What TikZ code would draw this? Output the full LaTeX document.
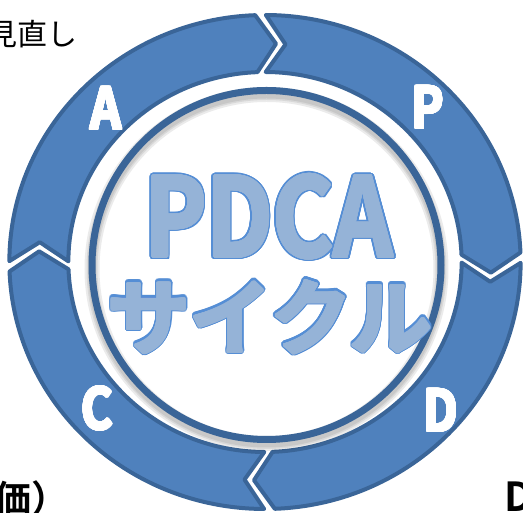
\documentclass[tikz,border=0pt]{standalone}
\usepackage{fontspec}
\usepackage{contour}
\newfontfamily\jpfont{Noto Sans CJK JP}
\newfontfamily\jpbold{Noto Sans CJK JP Bold}
\newfontfamily\jpnarrow[FakeStretch=0.85]{Noto Sans CJK JP Bold}
\definecolor{segfill}{HTML}{4F81BD}
\definecolor{segline}{HTML}{3A6598}
\definecolor{txtfill}{HTML}{95B3D7}
\definecolor{txtline}{HTML}{558ED5}
\contournumber{32}

\begin{document}
\begin{tikzpicture}[x=1pt,y=1pt]
      \tikzstyle{segment}=[fill=segfill, draw=segline, line width=4pt, line join=round]
      \tikzstyle{letter}=[text=white, inner sep=0pt,
        font=\jpnarrow\fontsize{57}{57}\selectfont]
      \tikzstyle{big}=[text=txtfill, inner sep=0pt]
      \tikzstyle{cut}=[text=black, inner sep=0pt, anchor=base west]
      \def \R {247}
      \def \r {190}
      \def \Rm {218.5}
      \def \g {1.2}
      \def \d {5}
      \useasboundingbox (0,0) rectangle (523,513);
      \clip (0,0) rectangle (523,513);
      % four arrows round the ring, clockwise
      \begin{scope}[shift={(265,251)}, xscale=1.035]
        \foreach \s in {91,1,-89,-179} {
          \pgfmathsetmacro\e{\s-90}
          \draw[segment] ({\s-\g}:\R) arc[start angle=\s-\g, end angle=\e+\g, radius=\R]
            -- ({\e+\g-\d}:\Rm) -- ({\e+\g}:\r)
            arc[start angle=\e+\g, end angle=\s-\g, radius=\r]
            -- ({\s-\g-\d}:\Rm) -- cycle;
        }
      \end{scope}
      % centre disc with its shadow
      \fill[white] (266.5,248) circle (178);
      \foreach \w in {15,11,8} {
        \draw[black, opacity=.08, line width=\w pt] (266.5,244) circle (174.5);
      }
      \draw[segline, line width=7pt] (266.5,248) circle (174.5);
      \contourlength{1.1pt}
      \node[letter] at (106,404) (A) {\contour{white}{A}};
      \node[letter] at (428,405) (P) {\contour{white}{P}};
      \node[letter] at (97,104) (C) {\contour{white}{C}};
      \node[letter] at (441,102) (D) {\contour{white}{D}};
      % title: outline first, then the thickened fill on top
      \contourlength{3pt}
      \node[big, anchor=base, font=\jpnarrow\fontsize{109}{109}\selectfont]
        at (269,256) (title) {\contour{txtline}{PDCA}};
      \node[big, font=\jpbold\fontsize{82}{82}\selectfont]
        at (270,195) (kana) {\contour{txtline}{サイクル}};
      \contourlength{1.3pt}
      \node[big, anchor=base, font=\jpnarrow\fontsize{109}{109}\selectfont]
        at (269,256) {\contour{txtfill}{PDCA}};
      \node[big, font=\jpbold\fontsize{82}{82}\selectfont]
        at (270,195) {\contour{txtfill}{サイクル}};
      % labels cut by the page edge
      \node[cut, anchor=west, font=\jpfont\fontsize{30}{30}\selectfont] at (-13,479) (redo) {見直し};
      \node[cut, font=\jpbold\fontsize{37}{37}\selectfont] at (-6,0) (check) {価）};
      \node[cut, font=\jpbold\fontsize{40}{40}\selectfont] at (504,1) (doing) {D};
\end{tikzpicture}
\end{document}
